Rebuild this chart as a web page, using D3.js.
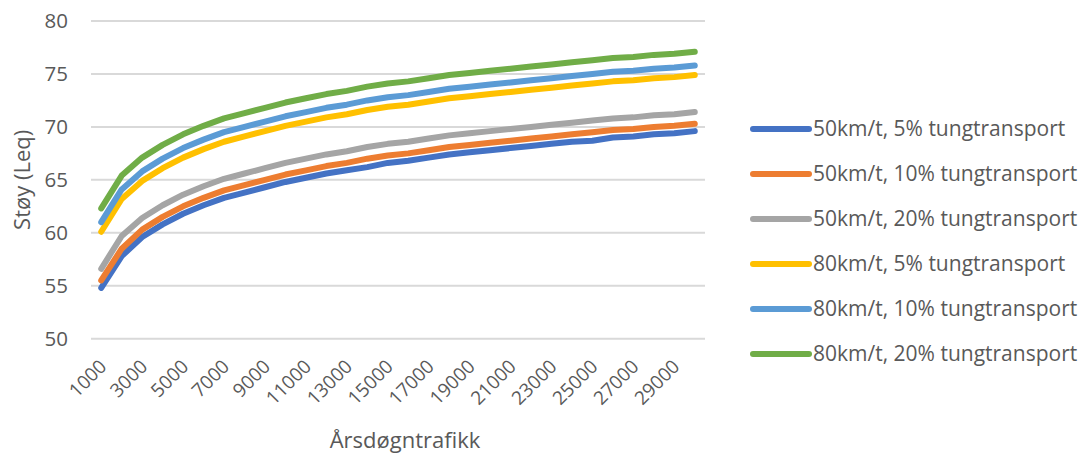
<!DOCTYPE html>
<html>
<head>
<meta charset="utf-8">
<script src="https://cdn.jsdelivr.net/npm/d3@7"></script>
<style>
  html, body { margin: 0; padding: 0; background: #ffffff; }
  svg { display: block; font-family: "Open Sans", sans-serif; }
</style>
</head>
<body>
<svg id="chart" width="1081" height="455"></svg>
<script>
// Årsdøgntrafikk (kjøretøy per døgn)
const traffic = [1000, 2000, 3000, 4000, 5000, 6000, 7000, 8000, 9000, 10000,
  11000, 12000, 13000, 14000, 15000, 16000, 17000, 18000, 19000, 20000,
  21000, 22000, 23000, 24000, 25000, 26000, 27000, 28000, 29000, 30000];

const xTickLabels = [1000, 3000, 5000, 7000, 9000, 11000, 13000, 15000,
  17000, 19000, 21000, 23000, 25000, 27000, 29000];
const yTicks = [50, 55, 60, 65, 70, 75, 80];

const seriesNames = [
  "50km/t, 5% tungtransport",
  "50km/t, 10% tungtransport",
  "50km/t, 20% tungtransport",
  "80km/t, 5% tungtransport",
  "80km/t, 10% tungtransport",
  "80km/t, 20% tungtransport"
];
const seriesColors = ["#4472C4", "#ED7D31", "#A5A5A5", "#FFC000", "#5B9BD5", "#70AD47"];

// Støy (Leq) per serie
const v50_5 = [54.8, 57.8, 59.6, 60.8, 61.8, 62.6, 63.3, 63.8, 64.3, 64.8,
  65.2, 65.6, 65.9, 66.2, 66.6, 66.8, 67.1, 67.4, 67.6, 67.8,
  68.0, 68.2, 68.4, 68.6, 68.7, 69.0, 69.1, 69.3, 69.4, 69.6];
const v50_10 = [55.5, 58.5, 60.3, 61.5, 62.5, 63.3, 64.0, 64.5, 65.0, 65.5,
  65.9, 66.3, 66.6, 67.0, 67.3, 67.5, 67.8, 68.1, 68.3, 68.5,
  68.7, 68.9, 69.1, 69.3, 69.5, 69.7, 69.8, 70.0, 70.1, 70.3];
const v50_20 = [56.6, 59.7, 61.4, 62.6, 63.6, 64.4, 65.1, 65.6, 66.1, 66.6,
  67.0, 67.4, 67.7, 68.1, 68.4, 68.6, 68.9, 69.2, 69.4, 69.6,
  69.8, 70.0, 70.2, 70.4, 70.6, 70.8, 70.9, 71.1, 71.2, 71.4];
const v80_5 = [60.1, 63.2, 64.9, 66.1, 67.1, 67.9, 68.6, 69.1, 69.6, 70.1,
  70.5, 70.9, 71.2, 71.6, 71.9, 72.1, 72.4, 72.7, 72.9, 73.1,
  73.3, 73.5, 73.7, 73.9, 74.1, 74.3, 74.4, 74.6, 74.7, 74.9];
const v80_10 = [61.0, 64.1, 65.8, 67.0, 68.0, 68.8, 69.5, 70.0, 70.5, 71.0,
  71.4, 71.8, 72.1, 72.5, 72.8, 73.0, 73.3, 73.6, 73.8, 74.0,
  74.2, 74.4, 74.6, 74.8, 75.0, 75.2, 75.3, 75.5, 75.6, 75.8];
const v80_20 = [62.3, 65.4, 67.1, 68.3, 69.3, 70.1, 70.8, 71.3, 71.8, 72.3,
  72.7, 73.1, 73.4, 73.8, 74.1, 74.3, 74.6, 74.9, 75.1, 75.3,
  75.5, 75.7, 75.9, 76.1, 76.3, 76.5, 76.6, 76.8, 76.9, 77.1];

const seriesValues = [v50_5, v50_10, v50_20, v80_5, v80_10, v80_20];

const textColor = "#595959";
const svg = d3.select("#chart");

const plot = { left: 91, right: 705, top: 21, bottom: 338.7 };

const x = d3.scalePoint()
  .domain(traffic)
  .range([plot.left, plot.right])
  .padding(0.5);

const y = d3.scaleLinear()
  .domain([50, 80])
  .range([plot.bottom, plot.top]);

// Horisontale rutenettlinjer
svg.append("g")
  .selectAll("line")
  .data(yTicks)
  .join("line")
  .attr("x1", plot.left)
  .attr("x2", plot.right)
  .attr("y1", d => y(d))
  .attr("y2", d => y(d))
  .attr("stroke", "#d9d9d9")
  .attr("stroke-width", 2);

// Y-akse
const yAxis = svg.append("g")
  .attr("transform", `translate(${plot.left - 23},0)`)
  .call(d3.axisLeft(y).tickValues(yTicks).tickSize(0).tickPadding(0));
yAxis.select(".domain").remove();
yAxis.selectAll("text")
  .attr("fill", textColor)
  .attr("font-size", 20.5)
  .attr("font-family", "Open Sans, sans-serif")
  .attr("dy", "0.34em");

// X-akse med annenhver etikett, rotert
const xAxis = svg.append("g")
  .attr("transform", `translate(0,${plot.bottom})`)
  .call(d3.axisBottom(x).tickValues(xTickLabels).tickSize(0).tickPadding(0));
xAxis.select(".domain").remove();
xAxis.selectAll("text")
  .attr("fill", textColor)
  .attr("font-size", 19)
  .attr("font-family", "Open Sans, sans-serif")
  .attr("text-anchor", "end")
  .attr("y", 0)
  .attr("dy", 0)
  .attr("transform", "translate(6,29) rotate(-45)");

// Linjer
const line = d3.line()
  .x((d, i) => x(traffic[i]))
  .y(d => y(d));

svg.append("g")
  .selectAll("path")
  .data(seriesValues)
  .join("path")
  .attr("d", d => line(d))
  .attr("fill", "none")
  .attr("stroke", (d, i) => seriesColors[i])
  .attr("stroke-width", 6)
  .attr("stroke-linecap", "round")
  .attr("stroke-linejoin", "round");

// Aksetitler
svg.append("text")
  .attr("x", 405)
  .attr("y", 448)
  .attr("text-anchor", "middle")
  .attr("fill", textColor)
  .attr("font-size", 22)
  .text("Årsdøgntrafikk");

svg.append("text")
  .attr("transform", `translate(30,${(plot.top + plot.bottom) / 2}) rotate(-90)`)
  .attr("text-anchor", "middle")
  .attr("fill", textColor)
  .attr("font-size", 22)
  .text("Støy (Leq)");

// Tegnforklaring
const legend = svg.append("g");
const rows = legend.selectAll("g")
  .data(seriesNames)
  .join("g")
  .attr("transform", (d, i) => `translate(753,${129 + i * 45})`);
rows.append("line")
  .attr("x1", 0)
  .attr("x2", 56)
  .attr("stroke", (d, i) => seriesColors[i])
  .attr("stroke-width", 6)
  .attr("stroke-linecap", "round");
rows.append("text")
  .attr("x", 60)
  .attr("dy", "0.35em")
  .attr("fill", textColor)
  .attr("font-size", 21)
  .text(d => d);
</script>
</body>
</html>
